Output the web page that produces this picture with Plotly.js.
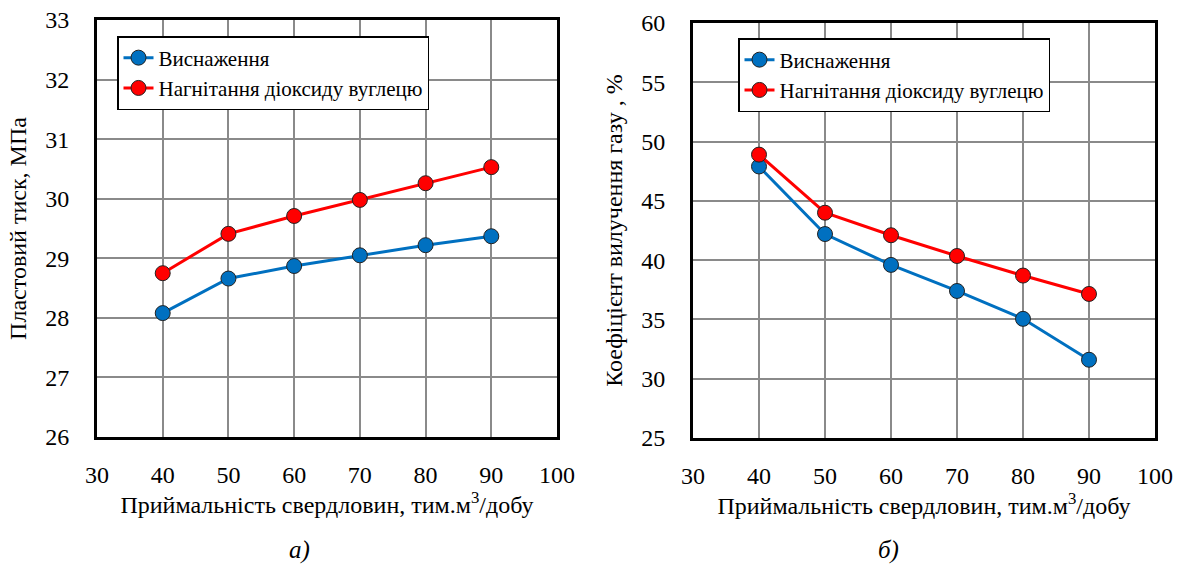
<!DOCTYPE html>
<html>
<head>
<meta charset="utf-8">
<script src="https://cdn.plot.ly/plotly-3.0.1.min.js"></script>
</head>
<body style="margin:0">
<div id="chart"></div>
<script>
// Data
const rates = [40, 50, 60, 70, 80, 90];
const pressureDepletion = [28.08, 28.66, 28.87, 29.05, 29.22, 29.37];
const pressureCO2 = [28.75, 29.41, 29.71, 29.98, 30.26, 30.53];
const recoveryDepletion = [47.9, 42.2, 39.6, 37.4, 35.05, 31.6];
const recoveryCO2 = [48.9, 44.0, 42.1, 40.35, 38.7, 37.15];
const seriesNames = ['Виснаження', 'Нагнітання діоксиду вуглецю'];
const xTitle = 'Приймальність свердловин, тим.м<sup>3</sup>/добу';
const yTitleLeft = 'Пластовий тиск, МПа';
const yTitleRight = 'Коефіцієнт вилучення газу , %';
const panelLabels = ['а)', 'б)'];

const BLUE = '#0070C0';
const RED = '#FF0000';

function trace(x, y, name, color, xa, ya, legend) {
  return {
    x: x, y: y, name: name, type: 'scatter', mode: 'lines+markers',
    xaxis: xa, yaxis: ya, legend: legend, showlegend: true,
    line: {color: color, width: 3},
    marker: {color: color, size: 15, line: {color: '#222', width: 1}}
  };
}

const data = [
  trace(rates, pressureDepletion, seriesNames[0], BLUE, 'x', 'y', 'legend'),
  trace(rates, pressureCO2, seriesNames[1], RED, 'x', 'y', 'legend'),
  trace(rates, recoveryDepletion, seriesNames[0], BLUE, 'x2', 'y2', 'legend2'),
  trace(rates, recoveryCO2, seriesNames[1], RED, 'x2', 'y2', 'legend2')
];

function axisBase() {
  return {
    showline: true, linecolor: '#000', linewidth: 3, mirror: true,
    showgrid: true, gridcolor: '#8a8a8a', gridwidth: 1.5,
    zeroline: false, ticks: '',
    tickfont: {family: 'Liberation Serif', size: 24, color: '#000'}
  };
}
function legendBase() {
  return {
    bgcolor: '#fff', bordercolor: '#000', borderwidth: 1.5,
    font: {family: 'Liberation Serif', size: 21, color: '#000'},
    xanchor: 'left', yanchor: 'top', tracegroupgap: 0, itemwidth: 30
  };
}
function titleFont() {
  return {family: 'Liberation Serif', size: 24, color: '#000'};
}

const layout = {
  width: 1187, height: 566,
  margin: {l: 0, r: 0, t: 0, b: 0},
  paper_bgcolor: '#fff', plot_bgcolor: '#fff',
  xaxis: Object.assign(axisBase(), {
    domain: [97/1187, 557/1187], range: [30, 100], dtick: 10, tick0: 30,
    anchor: 'y', ticklabelstandoff: 14,
    title: {text: xTitle, font: titleFont(), standoff: 10}
  }),
  yaxis: Object.assign(axisBase(), {
    domain: [1 - 437/566, 1 - 20/566], range: [26, 33], dtick: 1,
    anchor: 'x', ticklabelstandoff: 20,
    title: {text: yTitleLeft, font: titleFont(), standoff: 12}
  }),
  xaxis2: Object.assign(axisBase(), {
    domain: [693/1187, 1155/1187], range: [30, 100], dtick: 10, tick0: 30,
    anchor: 'y2', ticklabelstandoff: 14,
    title: {text: xTitle, font: titleFont(), standoff: 10}
  }),
  yaxis2: Object.assign(axisBase(), {
    domain: [1 - 438/566, 1 - 23/566], range: [25, 60], dtick: 5,
    anchor: 'x2', ticklabelstandoff: 20,
    title: {text: yTitleRight, font: titleFont(), standoff: 12}
  }),
  legend: Object.assign(legendBase(), {x: 117/1187, y: 1 - 36/566}),
  legend2: Object.assign(legendBase(), {x: 738/1187, y: 1 - 38/566}),
  annotations: [
    {text: '<i>' + panelLabels[0] + '</i>', xref: 'paper', yref: 'paper',
     x: 300/1187, y: 1 - 550/566, xanchor: 'center', yanchor: 'middle',
     showarrow: false, font: {family: 'Liberation Serif', size: 25, color: '#000'}},
    {text: '<i>' + panelLabels[1] + '</i>', xref: 'paper', yref: 'paper',
     x: 888/1187, y: 1 - 550/566, xanchor: 'center', yanchor: 'middle',
     showarrow: false, font: {family: 'Liberation Serif', size: 25, color: '#000'}}
  ]
};

Plotly.newPlot('chart', data, layout, {displayModeBar: false});
</script>
</body>
</html>
